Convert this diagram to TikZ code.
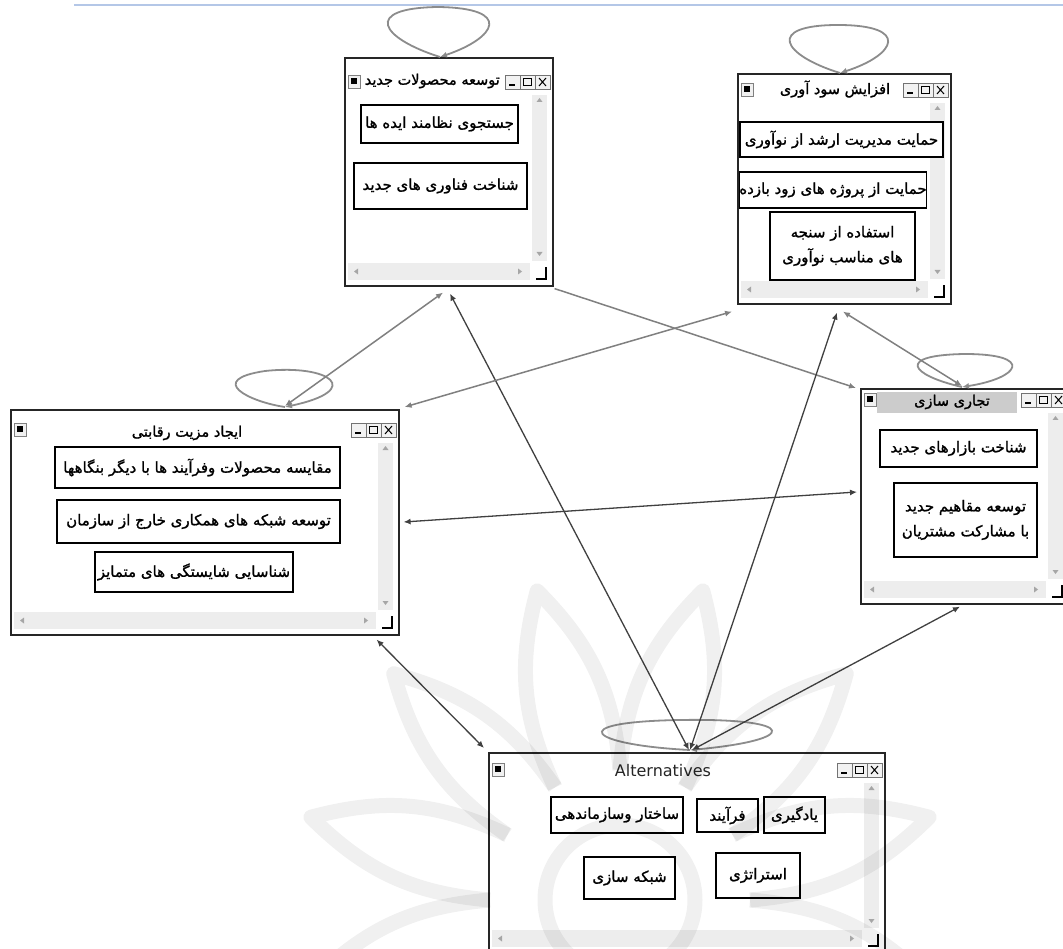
\documentclass[tikz,border=0pt]{standalone}
\usepackage{fontspec}
\usetikzlibrary{arrows.meta}
\TeXXeTstate=1
\newfontfamily\fa[Script=Arabic, FakeBold=1.3]{DejaVu Sans}
\newfontfamily\uisans{DejaVu Sans}
\newcommand\fatext[1]{{\fa\beginR #1\endR}}
\definecolor{topblue}{HTML}{B4C7E7}
\newcommand\windeco[4]{%
 \begin{scope}[shift={(#1.north west)}]
  \draw[black!50, line width=0.6pt, fill=black!6] (4,{#4}) rectangle (16,{#4+13});
  \fill[black] (7,{#4+3}) rectangle (13,{#4+9});
  \draw[btn] ({#2-47},{#4}) rectangle ({#2-32},{#4+14});
  \draw[black, line width=1.2pt] ({#2-43},{#4+10}) -- ({#2-37},{#4+10});
  \draw[btn] ({#2-32},{#4}) rectangle ({#2-17},{#4+14});
  \draw[black, line width=1pt] ({#2-28.5},{#4+3.5}) rectangle ({#2-20.5},{#4+10.5});
  \draw[btn] ({#2-17},{#4}) rectangle ({#2-2},{#4+14});
  \draw[black, line width=1pt] ({#2-13},{#4+3}) -- ({#2-6},{#4+11}) ({#2-13},{#4+11}) -- ({#2-6},{#4+3});
  \fill[sb] ({#2-20},{#4+20}) rectangle ({#2-5},{#3-24});
  \fill[black!35] ({#2-15.5},{#4+27}) -- ({#2-9.5},{#4+27}) -- ({#2-12.5},{#4+23}) -- cycle;
  \fill[black!35] ({#2-15.5},{#3-33}) -- ({#2-9.5},{#3-33}) -- ({#2-12.5},{#3-29}) -- cycle;
  \fill[sb] (4,{#3-22}) rectangle ({#2-22},{#3-5});
  \fill[black!35] (14,{#3-16.5}) -- (14,{#3-10.5}) -- (10,{#3-13.5}) -- cycle;
  \fill[black!35] ({#2-34},{#3-16.5}) -- ({#2-34},{#3-10.5}) -- ({#2-30},{#3-13.5}) -- cycle;
  \draw[black, line width=1.2pt] ({#2-16},{#3-6}) -- ({#2-6},{#3-6}) -- ({#2-6},{#3-18});
 \end{scope}}
\begin{document}
\begin{tikzpicture}[x=1pt,y=-1pt,
 win/.style={draw=black!85, line width=1.6pt, fill=white, inner sep=0pt, anchor=north west},
 ibox/.style={draw=black, line width=1.3pt, fill=white, inner sep=0pt, font=\fa\fontsize{15}{25}\selectfont, align=center},
 ttl/.style={inner sep=0pt, font=\fa\fontsize{14.5}{16}\selectfont},
 gline/.style={draw=black!50, line width=1.5pt},
 dline/.style={draw=black!75, line width=1.3pt},
 lp/.style={draw=black!45, line width=1.8pt},
 both/.style={{Latex[length=7pt,width=6pt]}-{Latex[length=7pt,width=6pt]}},
 one/.style={-{Latex[length=7pt,width=6pt]}},
 sb/.style={fill=black!7},
 btn/.style={draw=black!55, line width=0.6pt, fill=black!5},
 wm/.style={draw=black, line width=15pt, opacity=0.06, line join=round},
]
\useasboundingbox (0,0) rectangle (1063,949);
\fill[white] (0,0) rectangle (1063,949);
\draw[topblue, line width=1.5pt] (74,5) -- (1063,5);

% windows
\node[win, minimum width=208pt, minimum height=228pt] (w1) at (344,57) {};
\node[win, minimum width=213pt, minimum height=230pt] (w2) at (737,73) {};
\node[win, minimum width=388pt, minimum height=225pt] (w3) at (10,409) {};
\node[win, minimum width=208pt, minimum height=215pt] (w4) at (860,388) {};
\node[win, minimum width=396pt, minimum height=200pt] (w5) at (488,752) {};

\fill[black!20] (877,392) rectangle (1017,413);

\windeco{w1}{208}{228}{18}
\windeco{w2}{213}{230}{10}
\windeco{w3}{388}{225}{14}
\windeco{w4}{208}{215}{5}
\windeco{w5}{396}{200}{11}

% titles
\node[ttl, anchor=east] (t1) at (500,81) {\fatext{توسعه محصولات جدید}};
\node[ttl] (t2) at (835,89) {\fatext{افزایش سود آوری}};
\node[ttl] (t3) at (187,433) {\fatext{ایجاد مزیت رقابتی}};
\node[ttl] (t4) at (952,402) {\fatext{تجاری سازی}};
\node[inner sep=0pt, font=\uisans\fontsize{16}{18}\selectfont, text=black!85] (t5) at (663,771) {Alternatives};

% inner boxes
\node[ibox, minimum width=157pt, minimum height=38pt] (b11) at (439.5,124) {\fatext{جستجوی نظامند ایده ها}};
\node[ibox, minimum width=173pt, minimum height=46pt] (b12) at (440.5,186) {\fatext{شناخت فناوری های جدید}};

\node[ibox, minimum width=203pt, minimum height=35pt] (b21) at (841.5,139.5) {\fatext{حمایت مدیریت ارشد از نوآوری}};
\node[ibox, minimum width=180pt, minimum height=36pt] (b22) at (833,190) {\fatext{حمایت از پروژه های زود بازده}};
\node[ibox, minimum width=145pt, minimum height=68pt] (b23) at (842.5,246) {\fatext{استفاده از سنجه}\\\fatext{های مناسب نوآوری}};

\node[ibox, minimum width=285pt, minimum height=41pt] (b31) at (197.5,467.5) {\fatext{مقایسه محصولات وفرآیند ها با دیگر بنگاهها}};
\node[ibox, minimum width=283pt, minimum height=43pt] (b32) at (198.5,521.5) {\fatext{توسعه شبکه های همکاری خارج از سازمان}};
\node[ibox, minimum width=198pt, minimum height=40pt] (b33) at (194,572) {\fatext{شناسایی شایستگی های متمایز}};

\node[ibox, minimum width=157pt, minimum height=37pt] (b41) at (958.5,448.5) {\fatext{شناخت بازارهای جدید}};
\node[ibox, minimum width=143pt, minimum height=74pt] (b42) at (965.5,520) {\fatext{توسعه مقاهیم جدید}\\\fatext{با مشارکت مشتریان}};

\node[ibox, minimum width=132pt, minimum height=36pt] (b51) at (617,815) {\fatext{ساختار وسازماندهی}};
\node[ibox, minimum width=61pt, minimum height=33pt] (b52) at (727.5,815.5) {\fatext{فرآیند}};
\node[ibox, minimum width=61pt, minimum height=36pt] (b53) at (794.5,815) {\fatext{یادگیری}};
\node[ibox, minimum width=91pt, minimum height=42pt] (b54) at (629.5,878) {\fatext{شبکه سازی}};
\node[ibox, minimum width=84pt, minimum height=45pt] (b55) at (758,875.5) {\fatext{استراتژی}};

% self loops
\draw[lp, one] ([shift={(96,0)}]w1.north west) .. controls (380,38) and (362,8) .. (438,7) .. controls (514,8) and (496,38) .. ([shift={(96,0)}]w1.north west);
\draw[lp, one] ([shift={(103,0)}]w2.north west) .. controls (782,55) and (765,25) .. (838,25) .. controls (911,25) and (896,55) .. ([shift={(103,0)}]w2.north west);
\draw[lp, one] ([shift={(275,-2)}]w3.north west) .. controls (250,402) and (205,380) .. (265,371) .. controls (330,364) and (365,390) .. ([shift={(275,-2)}]w3.north west);
\draw[lp, one] ([shift={(102,-1)}]w4.north west) .. controls (910,375) and (895,355) .. (965,354) .. controls (1035,354) and (1020,378) .. ([shift={(102,-1)}]w4.north west);
\draw[lp, one] ([shift={(202,-2)}]w5.north west) .. controls (590,745) and (560,722) .. (680,720) .. controls (800,718) and (800,740) .. ([shift={(202,-2)}]w5.north west);

% connectors
\draw[gline, both] ([shift={(99,6)}]w1.south west) -- ([shift={(275,-3)}]w3.north west);
\draw[dline, both] ([shift={(106,7)}]w1.south west) -- ([shift={(201,-2)}]w5.north west);
\draw[gline, both] ([shift={(5,-2)}]w3.north east) -- ([shift={(-5,7)}]w2.south west);
\draw[gline, one] ([shift={(1,2)}]w1.south east) -- ([shift={(-4,0)}]w4.north west);
\draw[dline, both] ([shift={(100,8)}]w2.south west) -- ([shift={(202,-2)}]w5.north west);
\draw[gline, both] ([shift={(106,7)}]w2.south west) -- ([shift={(102,-2)}]w4.north west);
\draw[dline, both] ([shift={(4,113)}]w3.north east) -- ([shift={(-3,104)}]w4.north west);
\draw[dline, both] ([shift={(-23,4)}]w3.south east) -- ([shift={(-4,-4)}]w5.north west);
\draw[dline, both] ([shift={(100,2)}]w4.south west) -- ([shift={(204,-2)}]w5.north west);

% watermark
\foreach \a in {0,30,...,330} {
  \draw[wm] ({620+130*cos(\a)},{900+130*sin(\a)}) to[bend left=20] ({620+320*cos(\a+15)},{900+320*sin(\a+15)}) to[bend left=20] ({620+130*cos(\a+30)},{900+130*sin(\a+30)});
}
\draw[wm] (620,900) circle (75);
\end{tikzpicture}
\end{document}
